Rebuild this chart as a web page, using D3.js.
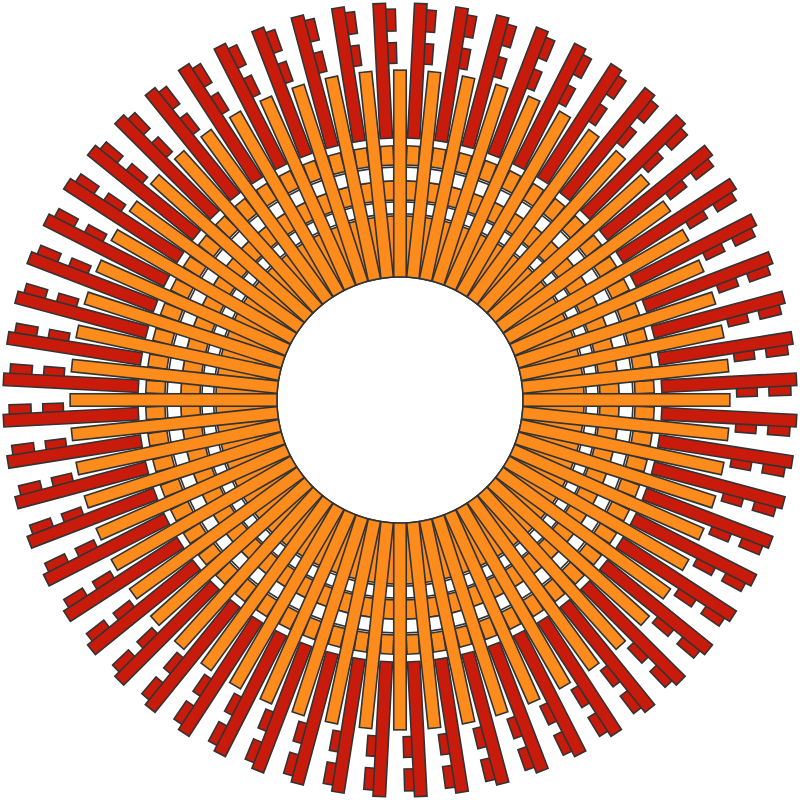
<!DOCTYPE html>
<html>
<head>
<meta charset="utf-8">
<script src="https://cdn.jsdelivr.net/npm/d3@7"></script>
<style>
  html, body { margin: 0; padding: 0; background: #ffffff; }
  svg { display: block; }
</style>
</head>
<body>
<svg id="chart" width="800" height="800"></svg>
<script>
// ---- data ----
const categories = d3.range(60).map(i => "S" + (i + 1));

// long orange spokes (one per sector)
const spokeOrange = [
  75.5,75.5,75.5,75.5,75.5,75.5,75.5,75.5,75.5,75.5,
  75.5,75.5,75.5,75.5,75.5,75.5,75.5,75.5,75.5,75.5,
  75.5,75.5,75.5,75.5,75.5,75.5,75.5,75.5,75.5,75.5,
  75.5,75.5,75.5,75.5,75.5,75.5,75.5,75.5,75.5,75.5,
  75.5,75.5,75.5,75.5,75.5,75.5,75.5,75.5,75.5,75.5,
  75.5,75.5,75.5,75.5,75.5,75.5,75.5,75.5,75.5,75.5
];

// stacked spokes between them (segments from the centre outwards)
const stackBase = [
  22.3,22.3,22.3,22.3,22.3,22.3,22.3,22.3,22.3,22.3,
  22.3,22.3,22.3,22.3,22.3,22.3,22.3,22.3,22.3,22.3,
  22.3,22.3,22.3,22.3,22.3,22.3,22.3,22.3,22.3,22.3,
  22.3,22.3,22.3,22.3,22.3,22.3,22.3,22.3,22.3,22.3,
  22.3,22.3,22.3,22.3,22.3,22.3,22.3,22.3,22.3,22.3,
  22.3,22.3,22.3,22.3,22.3,22.3,22.3,22.3,22.3,22.3
];
const stackGapA = [
  0.8,0.8,0.8,0.8,0.8,0.8,0.8,0.8,0.8,0.8,
  0.8,0.8,0.8,0.8,0.8,0.8,0.8,0.8,0.8,0.8,
  0.8,0.8,0.8,0.8,0.8,0.8,0.8,0.8,0.8,0.8,
  0.8,0.8,0.8,0.8,0.8,0.8,0.8,0.8,0.8,0.8,
  0.8,0.8,0.8,0.8,0.8,0.8,0.8,0.8,0.8,0.8,
  0.8,0.8,0.8,0.8,0.8,0.8,0.8,0.8,0.8,0.8
];
const stackWhite1 = [
  4.3,4.3,4.3,4.3,4.3,4.3,4.3,4.3,4.3,4.3,
  4.3,4.3,4.3,4.3,4.3,4.3,4.3,4.3,4.3,4.3,
  4.3,4.3,4.3,4.3,4.3,4.3,4.3,4.3,4.3,4.3,
  4.3,4.3,4.3,4.3,4.3,4.3,4.3,4.3,4.3,4.3,
  4.3,4.3,4.3,4.3,4.3,4.3,4.3,4.3,4.3,4.3,
  4.3,4.3,4.3,4.3,4.3,4.3,4.3,4.3,4.3,4.3
];
const stackGapB = [
  0.7,0.7,0.7,0.7,0.7,0.7,0.7,0.7,0.7,0.7,
  0.7,0.7,0.7,0.7,0.7,0.7,0.7,0.7,0.7,0.7,
  0.7,0.7,0.7,0.7,0.7,0.7,0.7,0.7,0.7,0.7,
  0.7,0.7,0.7,0.7,0.7,0.7,0.7,0.7,0.7,0.7,
  0.7,0.7,0.7,0.7,0.7,0.7,0.7,0.7,0.7,0.7,
  0.7,0.7,0.7,0.7,0.7,0.7,0.7,0.7,0.7,0.7
];
const stackOrange1 = [
  7.0,7.0,7.0,7.0,7.0,7.0,7.0,7.0,7.0,7.0,
  7.0,7.0,7.0,7.0,7.0,7.0,7.0,7.0,7.0,7.0,
  7.0,7.0,7.0,7.0,7.0,7.0,7.0,7.0,7.0,7.0,
  7.0,7.0,7.0,7.0,7.0,7.0,7.0,7.0,7.0,7.0,
  7.0,7.0,7.0,7.0,7.0,7.0,7.0,7.0,7.0,7.0,
  7.0,7.0,7.0,7.0,7.0,7.0,7.0,7.0,7.0,7.0
];
const stackWhite2 = [
  5.0,5.0,5.0,5.0,5.0,5.0,5.0,5.0,5.0,5.0,
  5.0,5.0,5.0,5.0,5.0,5.0,5.0,5.0,5.0,5.0,
  5.0,5.0,5.0,5.0,5.0,5.0,5.0,5.0,5.0,5.0,
  5.0,5.0,5.0,5.0,5.0,5.0,5.0,5.0,5.0,5.0,
  5.0,5.0,5.0,5.0,5.0,5.0,5.0,5.0,5.0,5.0,
  5.0,5.0,5.0,5.0,5.0,5.0,5.0,5.0,5.0,5.0
];
const stackGapC = [
  0.8,0.8,0.8,0.8,0.8,0.8,0.8,0.8,0.8,0.8,
  0.8,0.8,0.8,0.8,0.8,0.8,0.8,0.8,0.8,0.8,
  0.8,0.8,0.8,0.8,0.8,0.8,0.8,0.8,0.8,0.8,
  0.8,0.8,0.8,0.8,0.8,0.8,0.8,0.8,0.8,0.8,
  0.8,0.8,0.8,0.8,0.8,0.8,0.8,0.8,0.8,0.8,
  0.8,0.8,0.8,0.8,0.8,0.8,0.8,0.8,0.8,0.8
];
const stackOrange2 = [
  7.0,7.0,7.0,7.0,7.0,7.0,7.0,7.0,7.0,7.0,
  7.0,7.0,7.0,7.0,7.0,7.0,7.0,7.0,7.0,7.0,
  7.0,7.0,7.0,7.0,7.0,7.0,7.0,7.0,7.0,7.0,
  7.0,7.0,7.0,7.0,7.0,7.0,7.0,7.0,7.0,7.0,
  7.0,7.0,7.0,7.0,7.0,7.0,7.0,7.0,7.0,7.0,
  7.0,7.0,7.0,7.0,7.0,7.0,7.0,7.0,7.0,7.0
];
const stackGapD = [
  2.8,2.8,2.8,2.8,2.8,2.8,2.8,2.8,2.8,2.8,
  2.8,2.8,2.8,2.8,2.8,2.8,2.8,2.8,2.8,2.8,
  2.8,2.8,2.8,2.8,2.8,2.8,2.8,2.8,2.8,2.8,
  2.8,2.8,2.8,2.8,2.8,2.8,2.8,2.8,2.8,2.8,
  2.8,2.8,2.8,2.8,2.8,2.8,2.8,2.8,2.8,2.8,
  2.8,2.8,2.8,2.8,2.8,2.8,2.8,2.8,2.8,2.8
];
const stackRed = [
  49.3,49.3,49.3,49.3,49.3,49.3,49.3,49.3,49.3,49.3,
  49.3,49.3,49.3,49.3,49.3,49.3,49.3,49.3,49.3,49.3,
  49.3,49.3,49.3,49.3,49.3,49.3,49.3,49.3,49.3,49.3,
  49.3,49.3,49.3,49.3,49.3,49.3,49.3,49.3,49.3,49.3,
  49.3,49.3,49.3,49.3,49.3,49.3,49.3,49.3,49.3,49.3,
  49.3,49.3,49.3,49.3,49.3,49.3,49.3,49.3,49.3,49.3
];

// dashed "tab" spokes behind the red ones
const tabGap1 = [
  78.0,78.0,78.0,78.0,78.0,78.0,78.0,78.0,78.0,78.0,
  78.0,78.0,78.0,78.0,78.0,78.0,78.0,78.0,78.0,78.0,
  78.0,78.0,78.0,78.0,78.0,78.0,78.0,78.0,78.0,78.0,
  78.0,78.0,78.0,78.0,78.0,78.0,78.0,78.0,78.0,78.0,
  78.0,78.0,78.0,78.0,78.0,78.0,78.0,78.0,78.0,78.0,
  78.0,78.0,78.0,78.0,78.0,78.0,78.0,78.0,78.0,78.0
];
const tabRed1 = [
  7.5,7.5,7.5,7.5,7.5,7.5,7.5,7.5,7.5,7.5,
  7.5,7.5,7.5,7.5,7.5,7.5,7.5,7.5,7.5,7.5,
  7.5,7.5,7.5,7.5,7.5,7.5,7.5,7.5,7.5,7.5,
  7.5,7.5,7.5,7.5,7.5,7.5,7.5,7.5,7.5,7.5,
  7.5,7.5,7.5,7.5,7.5,7.5,7.5,7.5,7.5,7.5,
  7.5,7.5,7.5,7.5,7.5,7.5,7.5,7.5,7.5,7.5
];
const tabGap2 = [
  4.3,4.3,4.3,4.3,4.3,4.3,4.3,4.3,4.3,4.3,
  4.3,4.3,4.3,4.3,4.3,4.3,4.3,4.3,4.3,4.3,
  4.3,4.3,4.3,4.3,4.3,4.3,4.3,4.3,4.3,4.3,
  4.3,4.3,4.3,4.3,4.3,4.3,4.3,4.3,4.3,4.3,
  4.3,4.3,4.3,4.3,4.3,4.3,4.3,4.3,4.3,4.3,
  4.3,4.3,4.3,4.3,4.3,4.3,4.3,4.3,4.3,4.3
];
const tabRed2 = [
  8.0,8.0,8.0,8.0,8.0,8.0,8.0,8.0,8.0,8.0,
  8.0,8.0,8.0,8.0,8.0,8.0,8.0,8.0,8.0,8.0,
  8.0,8.0,8.0,8.0,8.0,8.0,8.0,8.0,8.0,8.0,
  8.0,8.0,8.0,8.0,8.0,8.0,8.0,8.0,8.0,8.0,
  8.0,8.0,8.0,8.0,8.0,8.0,8.0,8.0,8.0,8.0,
  8.0,8.0,8.0,8.0,8.0,8.0,8.0,8.0,8.0,8.0
];

// ---- layout / styles ----
const W = 800, H = 800, cx = 400, cy = 400;
const innerR = 123, outerR = 397;
const barW = 12.5;
const ORANGE = "#fd8c1c", RED = "#c81b0c", WHITE = "#ffffff", STROKE = "#333333";

const svg = d3.select("#chart");
const g = svg.append("g").attr("transform", `translate(${cx},${cy})`);

const angle = d3.scaleBand().domain(categories).range([0, 360]).paddingInner(0).paddingOuter(0);
const r = d3.scaleLinear().domain([0, 100]).range([innerR, outerR]);

function buildStack(keys, arrays) {
  const rows = categories.map((c, i) => {
    const o = { cat: c };
    keys.forEach((k, j) => { o[k] = arrays[j][i]; });
    return o;
  });
  return d3.stack().keys(keys)(rows);
}

function drawLayer(stacked, fills, angleOffset, cls) {
  const layer = g.append("g").attr("class", cls);
  stacked.forEach(series => {
    const fill = fills[series.key];
    if (fill === null) return;
    layer.selectAll(null)
      .data(series)
      .join("rect")
      .attr("transform", d => `rotate(${angle(d.data.cat) + angleOffset})`)
      .attr("x", -barW / 2)
      .attr("y", d => -r(d[1]))
      .attr("width", barW)
      .attr("height", d => r(d[1]) - r(d[0]))
      .attr("fill", fill)
      .attr("stroke", STROKE)
      .attr("stroke-width", 1.6);
  });
}

const half = angle.bandwidth() / 2;

// bottom: dashed tab spokes
const tabStack = buildStack(["g1", "t1", "g2", "t2"], [tabGap1, tabRed1, tabGap2, tabRed2]);
drawLayer(tabStack, { g1: null, t1: RED, g2: null, t2: RED }, half + 1.4, "tabs");

// middle: stacked spokes
const midKeys = ["base", "gA", "w1", "gB", "o1", "w2", "gC", "o2", "gD", "red"];
const midStack = buildStack(midKeys, [stackBase, stackGapA, stackWhite1, stackGapB, stackOrange1, stackWhite2, stackGapC, stackOrange2, stackGapD, stackRed]);
drawLayer(midStack, { base: ORANGE, gA: null, w1: WHITE, gB: null, o1: ORANGE, w2: WHITE, gC: null, o2: ORANGE, gD: null, red: RED }, half, "mid");

// top: long orange spokes
const topStack = buildStack(["long"], [spokeOrange]);
drawLayer(topStack, { long: ORANGE }, 0, "long");
</script>
</body>
</html>
